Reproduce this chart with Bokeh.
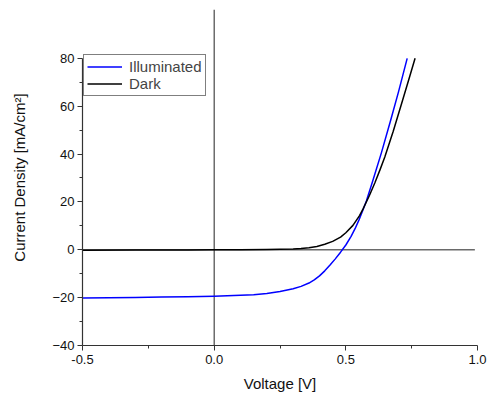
from bokeh.plotting import figure
from bokeh.models import Range1d, FixedTicker, Legend, LegendItem
from bokeh.embed import file_html
from bokeh.resources import INLINE

# Data
v_illum = [-0.5, -0.4, -0.3, -0.2, -0.1, 0.0, 0.05, 0.1, 0.15, 0.2, 0.25, 0.3, 0.33, 0.36,
           0.38, 0.40, 0.42, 0.44, 0.46, 0.48, 0.50, 0.52, 0.535, 0.55, 0.565, 0.578, 0.6,
           0.635, 0.67, 0.7, 0.733]
j_illum = [-20.2, -20.05, -19.9, -19.75, -19.6, -19.4, -19.25, -19.05, -18.75, -18.3, -17.4,
           -16.3, -15.3, -13.9, -12.6, -10.9, -8.8, -6.4, -3.8, -1.0, 2.0, 5.6, 8.8, 12.5,
           16.6, 20.4, 28.0, 40.5, 54.0, 66.0, 80.0]
v_dark = [-0.5, -0.3, -0.1, 0.0, 0.1, 0.2, 0.25, 0.3, 0.33, 0.36, 0.39, 0.42, 0.45, 0.48,
          0.5, 0.527, 0.552, 0.565, 0.59, 0.61, 0.63, 0.648, 0.68, 0.715, 0.74, 0.763]
j_dark = [-0.2, -0.12, -0.05, 0.0, 0.03, 0.1, 0.17, 0.3, 0.5, 0.85, 1.4, 2.3, 3.5, 5.3,
          7.1, 10.2, 14.3, 17.0, 22.8, 27.9, 33.5, 38.8, 49.5, 62.3, 71.5, 80.0]
x_ticks = [-0.5, 0.0, 0.5, 1.0]
x_tick_labels = ["-0.5", "0.0", "0.5", "1.0"]
y_ticks = [-40, -20, 0, 20, 40, 60, 80]
series_names = ["Illuminated", "Dark"]

FONT = "Liberation Sans"

p = figure(width=487, height=396, output_backend="svg", toolbar_location=None,
           x_range=Range1d(-0.5, 1.0), y_range=Range1d(-40, 100.4),
           min_border_left=82, min_border_right=10, min_border_top=9, min_border_bottom=51)
p.outline_line_color = None
p.grid.visible = False
p.background_fill_color = "white"
p.border_fill_color = "white"

# reference lines
p.segment(x0=[-0.5], y0=[0], x1=[0.99], y1=[0], line_color="#6a6a6a", line_width=1.5)
p.segment(x0=[0], y0=[-40], x1=[0], y1=[100.4], line_color="#222222", line_width=1)

r1 = p.line(v_illum, j_illum, line_color="#0000ff", line_width=1.5, line_join="round")
r2 = p.line(v_dark, j_dark, line_color="#000000", line_width=1.5, line_join="round")

legend = Legend(items=[LegendItem(label=series_names[0], renderers=[r1]),
                       LegendItem(label=series_names[1], renderers=[r2])],
                location=(1, 249), orientation="vertical",
                border_line_color="black", border_line_width=1,
                padding=3, spacing=0, margin=0,
                glyph_width=35, glyph_height=17, label_standoff=7,
                label_text_font=FONT, label_text_font_size="15px",
                label_height=17, background_fill_alpha=1)
p.add_layout(legend, "center")

for ax in [p.xaxis[0], p.yaxis[0]]:
    ax.axis_line_color = "#333333"
    ax.axis_line_width = 1.2
    ax.major_tick_line_color = "#333333"
    ax.minor_tick_line_color = "#333333"
    ax.major_tick_in = 0
    ax.major_tick_out = 5
    ax.minor_tick_in = 0
    ax.minor_tick_out = 3
    ax.major_label_text_font = FONT
    ax.major_label_text_font_size = "13px"
    ax.major_label_text_color = "#111111"
    ax.axis_label_text_font = FONT
    ax.axis_label_text_font_size = "15px"
    ax.axis_label_text_font_style = "normal"
    ax.axis_label_text_color = "#111111"

p.xaxis.ticker = FixedTicker(ticks=x_ticks, minor_ticks=[-0.25, 0.25, 0.75])
p.xaxis.major_label_overrides = {t: l for t, l in zip(x_ticks, x_tick_labels)}
p.xaxis.axis_label = "Voltage [V]"
p.xaxis.axis_label_standoff = 8
p.xaxis.major_label_standoff = 4

p.yaxis.ticker = FixedTicker(ticks=y_ticks, minor_ticks=[-30, -10, 10, 30, 50, 70])
p.yaxis.bounds = (-40, 80)
p.yaxis.axis_label = "Current Density [mA/cm\u00b2]"
p.yaxis.axis_label_standoff = 21
p.yaxis.major_label_standoff = 3

open("out.html", "w").write(file_html(p, INLINE))
